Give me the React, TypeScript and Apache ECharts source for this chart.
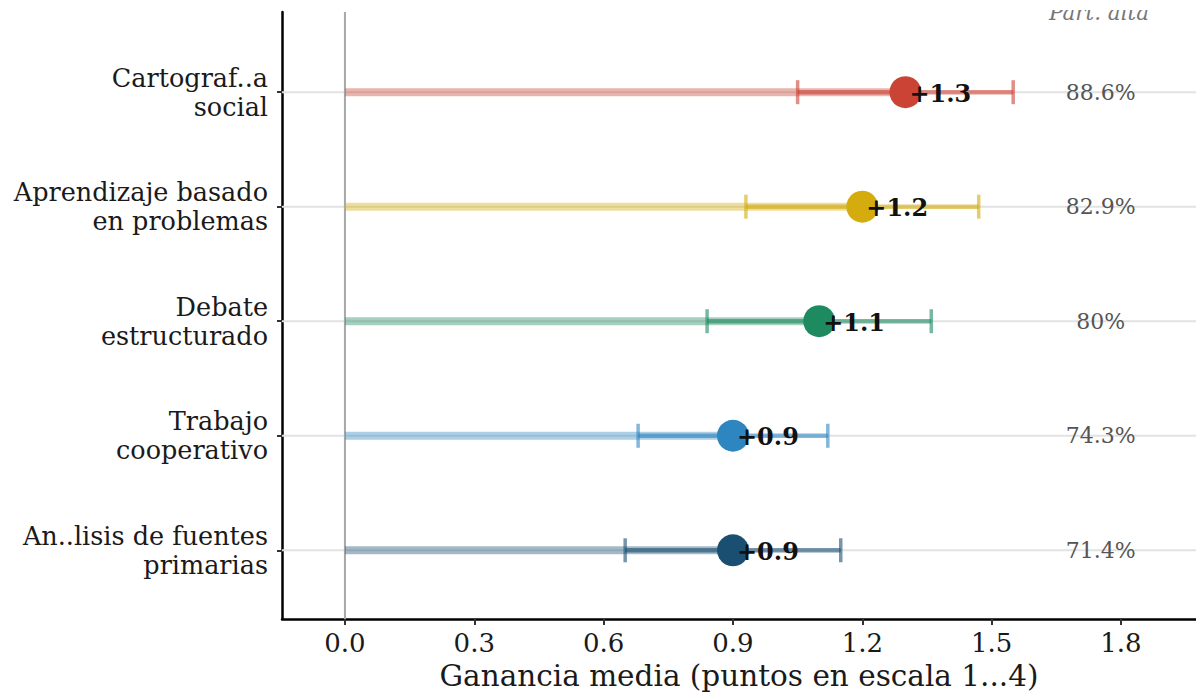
import React, { useEffect, useRef } from "react";
import * as echarts from "echarts";

const categories = [
  "Cartograf..a\nsocial",
  "Aprendizaje basado\nen problemas",
  "Debate\nestructurado",
  "Trabajo\ncooperativo",
  "An..lisis de fuentes\nprimarias",
];
const means = [1.3, 1.2, 1.1, 0.9, 0.9];
const ciLow = [1.05, 0.93, 0.84, 0.68, 0.65];
const ciHigh = [1.55, 1.47, 1.36, 1.12, 1.15];
const pctHigh = ["88.6%", "82.9%", "80%", "74.3%", "71.4%"];
const colors = ["#CB4335", "#D4AC0D", "#1D8A60", "#2E86C1", "#1B4F72"];
const xTicks = [0, 0.3, 0.6, 0.9, 1.2, 1.5, 1.8];
const rowTicks = [0, 1, 2, 3, 4];
const pctHeader = "Part. alta";
const xTitle = "Ganancia media (puntos en escala 1...4)";

const FONT = '"DejaVu Serif", serif';
const PCT_X = 1.753;

export default function App() {
  const ref = useRef<HTMLDivElement>(null);
  useEffect(() => {
    if (!ref.current) return;
    const chart = echarts.init(ref.current, null, { renderer: "svg" });
    const n = categories.length;
    const rowPos = (i: number) => n - 1 - i;
    const rows = categories.map((_, i) => [rowPos(i), means[i], ciLow[i], ciHigh[i]]);
    const pctRows = categories.map((_, i) => [PCT_X, rowPos(i)]);

    chart.setOption({
      animation: false,
      grid: {
        left: 282,
        top: 12,
        right: 0,
        height: 607,
        containLabel: false,
        outerBoundsMode: "none",
      },
      xAxis: {
        type: "value",
        min: -0.146,
        max: 1.974,
        axisLine: { show: true, onZero: false, lineStyle: { color: "#000", width: 2.5 } },
        axisTick: { show: true, customValues: xTicks, length: 6, lineStyle: { color: "#333", width: 2 } },
        axisLabel: {
          customValues: xTicks,
          formatter: (v: number) => v.toFixed(1),
          fontFamily: FONT,
          fontSize: 26,
          color: "#1a1a1a",
          margin: 11,
        },
        splitLine: { show: false },
        name: xTitle,
        nameLocation: "middle",
        nameGap: 42,
        nameTextStyle: { fontFamily: FONT, fontSize: 29.5, color: "#1a1a1a" },
      },
      yAxis: {
        type: "value",
        min: -0.6,
        max: 4.7,
        axisLine: { show: true, onZero: false, lineStyle: { color: "#000", width: 2.5 } },
        axisTick: { show: true, customValues: rowTicks, length: 5, lineStyle: { color: "#333", width: 2 } },
        axisLabel: {
          customValues: rowTicks,
          formatter: (v: number) => categories[n - 1 - Math.round(v)] ?? "",
          fontFamily: FONT,
          fontSize: 25.5,
          lineHeight: 29,
          color: "#1a1a1a",
          margin: 14,
          align: "right",
        },
        splitLine: { show: false },
      },
      series: [
        {
          type: "custom",
          silent: true,
          data: rows,
          z: 1,
          renderItem: (params: any, api: any) => {
            const cs = params.coordSys;
            const y = api.coord([0, api.value(0)])[1];
            return {
              type: "line",
              shape: { x1: cs.x, y1: y, x2: cs.x + cs.width, y2: y },
              style: { stroke: "#e2e2e2", lineWidth: 2 },
            };
          },
        },
        {
          type: "custom",
          silent: true,
          data: [[0, 0]],
          z: 2,
          renderItem: (params: any, api: any) => {
            const cs = params.coordSys;
            const x = api.coord([0, 0])[0];
            return {
              type: "line",
              shape: { x1: x, y1: cs.y, x2: x, y2: cs.y + cs.height },
              style: { stroke: "#a8a8a8", lineWidth: 2 },
            };
          },
        },
        {
          type: "custom",
          silent: true,
          data: rows,
          z: 3,
          renderItem: (params: any, api: any) => {
            const idx = params.dataIndex;
            const yv = api.value(0);
            const m = api.value(1);
            const lo = api.value(2);
            const hi = api.value(3);
            const p0 = api.coord([0, yv]);
            const pm = api.coord([m, yv]);
            const pl = api.coord([lo, yv]);
            const ph = api.coord([hi, yv]);
            const c = colors[idx];
            const capH = 12;
            return {
              type: "group",
              children: [
                {
                  type: "line",
                  shape: { x1: p0[0], y1: p0[1], x2: pm[0], y2: pm[1] },
                  style: { stroke: c, lineWidth: 8, opacity: 0.4 },
                },
                {
                  type: "line",
                  shape: { x1: pl[0], y1: pl[1], x2: ph[0], y2: ph[1] },
                  style: { stroke: c, lineWidth: 4.5, opacity: 0.6 },
                },
                {
                  type: "line",
                  shape: { x1: pl[0], y1: pl[1] - capH, x2: pl[0], y2: pl[1] + capH },
                  style: { stroke: c, lineWidth: 3.5, opacity: 0.6 },
                },
                {
                  type: "line",
                  shape: { x1: ph[0], y1: ph[1] - capH, x2: ph[0], y2: ph[1] + capH },
                  style: { stroke: c, lineWidth: 3.5, opacity: 0.6 },
                },
                {
                  type: "circle",
                  shape: { cx: pm[0], cy: pm[1], r: 16 },
                  style: { fill: c },
                },
                {
                  type: "text",
                  x: pm[0] + 4,
                  y: pm[1] + 1,
                  style: {
                    text: "+" + m.toFixed(1),
                    font: 'bold 24px "DejaVu Serif", serif',
                    fill: "#111",
                    textAlign: "left",
                    textVerticalAlign: "middle",
                  },
                },
              ],
            };
          },
        },
        {
          type: "custom",
          silent: true,
          data: pctRows,
          z: 4,
          renderItem: (params: any, api: any) => {
            const p = api.coord([api.value(0), api.value(1)]);
            return {
              type: "text",
              x: p[0],
              y: p[1],
              style: {
                text: pctHigh[params.dataIndex],
                font: '22px "DejaVu Serif", serif',
                fill: "#555",
                textAlign: "center",
                textVerticalAlign: "middle",
              },
            };
          },
        },
      ],
      graphic: [
        {
          type: "text",
          x: 1099,
          y: 12.6,
          z: 10,
          style: {
            text: pctHeader,
            font: 'italic 21.5px "DejaVu Serif", serif',
            fill: "#777",
            textAlign: "center",
            textVerticalAlign: "middle",
          },
        },
        {
          type: "rect",
          z: 11,
          shape: { x: 1030, y: 0, width: 150, height: 10 },
          style: { fill: "#fff" },
        },
      ],
    });
    return () => chart.dispose();
  }, []);
  return (
    <div
      ref={ref}
      style={{ position: "fixed", left: 0, top: 0, width: 1196, height: 695, background: "#fff" }}
    />
  );
}
